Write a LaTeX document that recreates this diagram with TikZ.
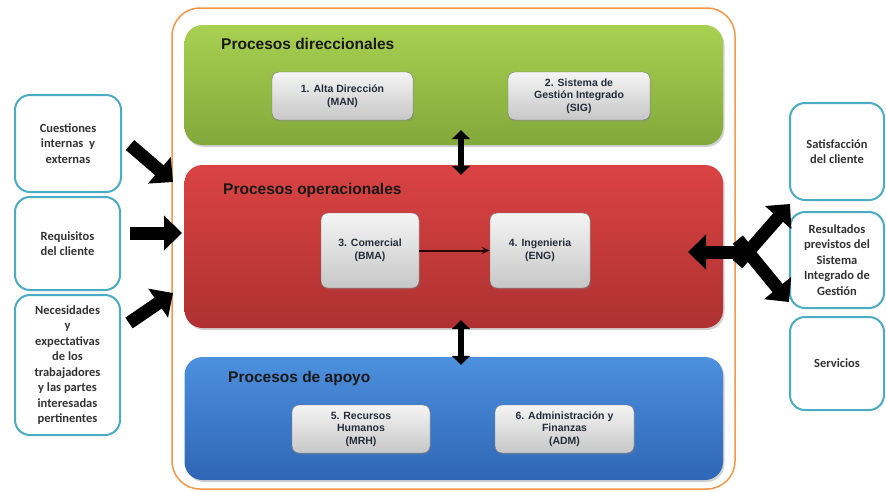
\documentclass[tikz,border=0pt]{standalone}
\usepackage{fontspec}
\setmainfont{Liberation Sans}
\newfontfamily\arialfont{Liberation Sans}
\newfontfamily\calfont{Carlito}
\usetikzlibrary{arrows.meta,shadows}

\definecolor{frameorange}{HTML}{F79646}
\definecolor{sidecyan}{HTML}{4BACC6}
\definecolor{greentop}{HTML}{A8D051}
\definecolor{greenbot}{HTML}{83A83B}
\definecolor{redtop}{HTML}{DA4343}
\definecolor{redbot}{HTML}{AE3131}
\definecolor{bluetop}{HTML}{4C90DE}
\definecolor{bluebot}{HTML}{2F66B5}
\definecolor{boxtext}{HTML}{262C3A}
\definecolor{sidetext}{HTML}{333333}

\tikzset{
  band/.style={rounded corners=18pt, minimum width=538.5pt,
    drop shadow={opacity=0.35, shadow xshift=1.5pt, shadow yshift=-2pt}},
  bandtitle/.style={anchor=west, inner sep=0pt, font=\arialfont\fontsize{15.5}{17}\selectfont\bfseries, text=black!90},
  procbox/.style={draw=black!55, rounded corners=7pt, top color=white!96!black, bottom color=black!22,
    align=center, text=boxtext, font=\arialfont\fontsize{10.5}{12.5}\selectfont\bfseries,
    drop shadow={opacity=0.3, shadow xshift=1pt, shadow yshift=-1.5pt}},
  sidebox/.style={draw=sidecyan, line width=2pt, rounded corners=15pt, fill=white,
    align=center, text=sidetext, font=\calfont\fontsize{12.5}{15.5}\selectfont\bfseries},
  bigarrow/.style={line width=13pt, -{Triangle[length=18pt,width=34pt]}},
  vdouble/.style={line width=6pt, {Triangle[length=9pt,width=18pt]}-{Triangle[length=9pt,width=18pt]}},
}

\begin{document}
\begin{tikzpicture}[x=1pt, y=-1pt]

    \useasboundingbox[fill=white] (0,0) rectangle (886,491);

    % Outer frame
    \draw[frameorange, line width=1.5pt, rounded corners=28pt] (172,8) rectangle (735,489);

    % Bands
    \node[band, minimum height=120pt, top color=greentop, bottom color=greenbot] (dir) at (453.75,85) {};
    \node[band, minimum height=163pt, top color=redtop, bottom color=redbot] (ope) at (453.75,246.5) {};
    \node[band, minimum height=123pt, top color=bluetop, bottom color=bluebot] (apo) at (453.75,418.5) {};

    \node[bandtitle] (dirtitle) at (221,44) {Procesos direccionales};
    \node[bandtitle] (opetitle) at (223,190) {Procesos operacionales};
    \node[bandtitle] (apotitle) at (228,378) {Procesos de apoyo};

    % Processes
    \node[procbox, minimum width=141pt, minimum height=48pt] (man) at (342.5,96) {1. Alta Dirección\\(MAN)};
    \node[procbox, minimum width=142pt, minimum height=48pt] (sig) at (579,96) {2. Sistema de\\Gestión Integrado\\(SIG)};
    \node[procbox, minimum width=98pt, minimum height=75pt] (bma) at (370,250.5) {3. Comercial\\(BMA)};
    \node[procbox, minimum width=100pt, minimum height=75pt] (eng) at (540,250.5) {4. Ingenieria\\(ENG)};
    \node[procbox, minimum width=138pt, minimum height=48pt] (mrh) at (361,429) {5. Recursos\\Humanos\\(MRH)};
    \node[procbox, minimum width=139pt, minimum height=48pt] (adm) at (564.5,429) {6. Administración y\\Finanzas\\(ADM)};

    \draw[-{Stealth[length=8pt,width=7pt]}, line width=2pt, black!85!red] (bma) -- (eng);

    % Links between bands
    \draw[vdouble, shorten <=-15pt, shorten >=-10pt] ([xshift=7.25pt]dir.south) -- ([xshift=7.25pt]ope.north);
    \draw[vdouble, shorten <=-8pt, shorten >=-8pt] ([xshift=7.25pt]ope.south) -- ([xshift=7.25pt]apo.north);

    % Inputs
    \node[sidebox, minimum width=106pt, minimum height=97pt] (cue) at (68,143.5) {Cuestiones\\internas~ y\\externas};
    \node[sidebox, minimum width=105pt, minimum height=93pt] (req) at (67.5,243.5) {Requisitos\\del cliente};
    \node[sidebox, minimum width=105pt, minimum height=140pt] (nec) at (67.5,365) {Necesidades\\y\\expectativas\\de los\\trabajadores\\y las partes\\interesadas\\pertinentes};

    \coordinate (intop) at (173,182);
    \coordinate (inmid) at (182,233);
    \coordinate (inbot) at (173,293);
    \draw[bigarrow] ([shift={(8,1.5)}]cue.east) -- (intop);
    \draw[bigarrow] ([shift={(9,-10.5)}]req.east) -- (inmid);
    \draw[bigarrow] ([shift={(8,-42)}]nec.east) -- (inbot);

    % Outputs
    \node[sidebox, minimum width=94pt, minimum height=97pt] (sat) at (837,151.5) {Satisfacción\\del cliente};
    \node[sidebox, minimum width=94pt, minimum height=96pt] (res) at (837,260) {Resultados\\previstos del\\Sistema\\Integrado de\\Gestión};
    \node[sidebox, minimum width=94pt, minimum height=93pt] (ser) at (837,363.5) {Servicios};

    \coordinate (junc) at (748,252);
    \coordinate (outleft) at (688,252);
    \coordinate (outup) at (790,204);
    \coordinate (outdown) at (789,302);
    \draw[bigarrow] (junc) -- (outleft);
    \draw[bigarrow, shorten <=-16pt] (junc) -- (outup);
    \draw[bigarrow, shorten <=-16pt] (junc) -- (outdown);

\end{tikzpicture}
\end{document}
